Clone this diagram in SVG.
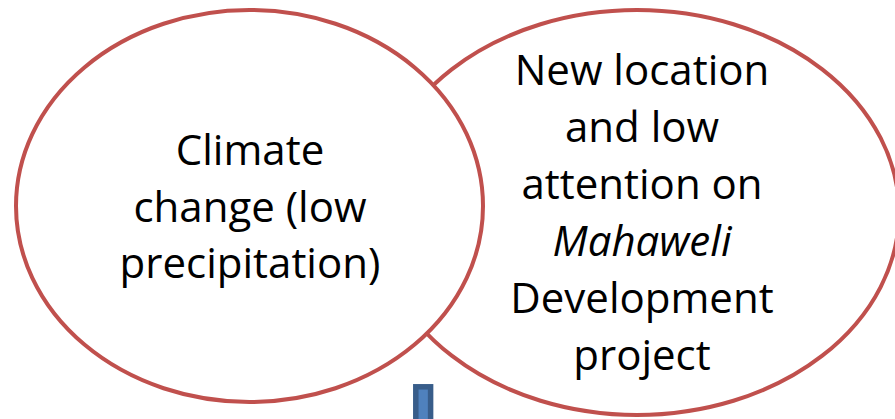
<svg xmlns="http://www.w3.org/2000/svg" width="895" height="419" viewBox="0 0 895 419">
<style>
.ell{fill:#FFFFFF;stroke:#C0504D;stroke-width:4}
.t{font-family:"Open Sans","Liberation Sans",sans-serif;font-size:42px;fill:#000000;text-anchor:middle}
.arrow{fill:#4F81BD;stroke:#385D8A;stroke-width:5.5}
</style>
<rect width="895" height="419" fill="#FFFFFF"/>
<g id="node-right">
<ellipse class="ell" cx="637" cy="212.5" rx="262" ry="202.5"/>
<text class="t" x="642" y="85">New location</text>
<text class="t" x="642" y="142">and low</text>
<text class="t" x="642" y="199">attention on</text>
<text class="t" x="642" y="256" font-style="italic">Mahaweli</text>
<text class="t" x="642" y="313">Development</text>
<text class="t" x="642" y="370">project</text>
</g>
<g id="node-left">
<ellipse class="ell" cx="249.5" cy="206" rx="233.5" ry="196"/>
<text class="t" x="250" y="165">Climate</text>
<text class="t" x="250" y="222">change (low</text>
<text class="t" x="250" y="278">precipitation)</text>
</g>
<g id="connectors">
<rect class="arrow" x="415.8" y="386.8" width="14.8" height="50"/>
</g>
</svg>
